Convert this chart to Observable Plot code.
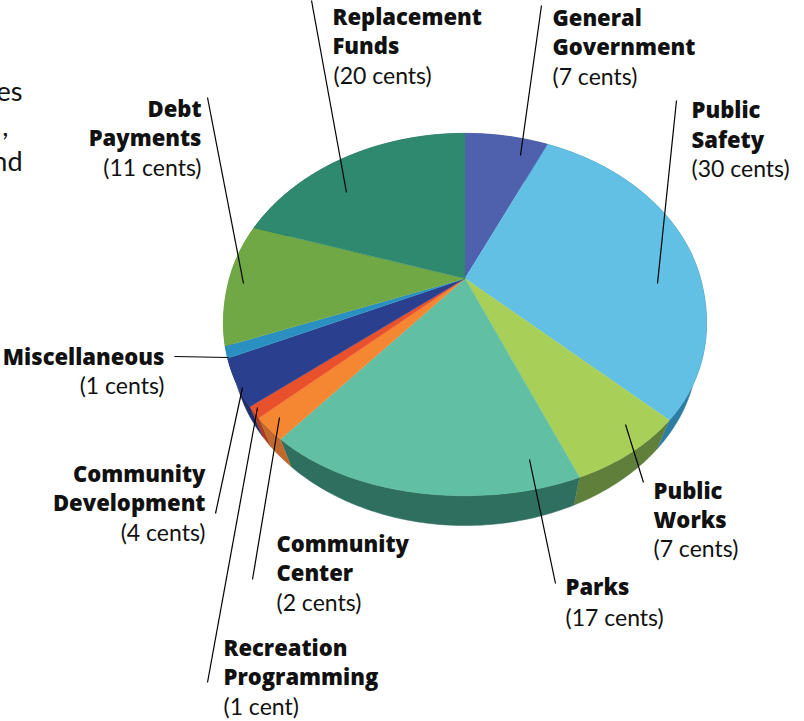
<!DOCTYPE html>
<html>
<head>
<meta charset="utf-8">
<style>html,body{margin:0;padding:0;background:#fff}svg{display:block}</style>
<script src="https://cdn.jsdelivr.net/npm/d3@7"></script>
<script src="https://cdn.jsdelivr.net/npm/@observablehq/plot@0.6"></script>
</head>
<body>
<div id="chart"></div>
<script>
// Slices, clockwise from twelve o'clock
const categories = ["General Government","Public Safety","Public Works","Parks","Community Center","Recreation Programming","Community Development","Miscellaneous","Debt Payments","Replacement Funds"];
// Slice sizes (the labels round them to whole cents)
const cents = [6.8,30.2,6.6,17.6,2,1,4,1,10.8,20];
const topColors = ["#4f60ad","#62c0e4","#a8cf58","#61bfa3","#f58732","#e8512b","#2a3f8e","#2a90c1","#70a845","#2e896e"];
const sideColors = ["#36427a","#2b7da3","#5f7f3a","#2f6f60","#c1682c","#a83d22","#1f2e68","#1f6a8e","#4f7a30","#215f4e"];

// Label lines: [text, x, baseline, anchor, bold]
const labelLines = [
  ["Replacement",332,24,"start",1],["Funds",332,53,"start",1],["(20 cents)",333,83,"start",0],
  ["General",552,25,"start",1],["Government",552,54,"start",1],["(7 cents)",552,84,"start",0],
  ["Public",691,117,"start",1],["Safety",691,147,"start",1],["(30 cents)",691,176,"start",0],
  ["Public",653,498,"start",1],["Works",653,527,"start",1],["(7 cents)",653,556,"start",0],
  ["Parks",565,594,"start",1],["(17 cents)",565,625,"start",0],
  ["Community",276,551,"start",1],["Center",276,580,"start",1],["(2 cents)",276,610,"start",0],
  ["Recreation",223,655,"start",1],["Programming",223,684,"start",1],["(1 cent)",223,714,"start",0],
  ["Community",205,481,"end",1],["Development",205,510,"end",1],["(4 cents)",205,540,"end",0],
  ["Miscellaneous",164,364,"end",1],["(1 cents)",164,393,"end",0],
  ["Debt",201,116,"end",1],["Payments",201,145,"end",1],["(11 cents)",201,175,"end",0]
];
const bodyFragments = [["es",22,100],[",",8,135],["nd",22,170]];
// Leader lines: x1,y1,x2,y2
const leaders = [
  [311,0,346,192],[541,5,520,155],[676,100,657,283],[625,424,643,482],[529,459,555,583],
  [279,417,252,579],[257,407,207,682],[242,387,215,513],[174,356,228,357],[207,97,243,283]
];

// Pie geometry: a tilted disc seen in perspective
const cx = 464.5, cy = 278, A = 235.5, B = 174, k = -0.199;
const rimScale = 0.967, rimCy = 315, cornerBulge = 0.028;
const project = (a, scale = 1, y0 = cy, bulge = 0) => {
  const u = Math.sin(a), v = -Math.cos(a), w = 1 + k * v;
  const b = 1 + (v > 0 ? bulge * Math.sin(2 * a) ** 2 : 0);
  return {x: cx + b * scale * A * u / w, y: y0 + b * scale * B * v / w};
};
const total = d3.sum(cents);
const cum = d3.cumsum(cents);
const angle = c => c / total * 2 * Math.PI;
const step = Math.PI / 180;
const faces = [], sides = [];
categories.forEach((name, i) => {
  const a0 = angle(cum[i] - cents[i]), a1 = angle(cum[i]);
  const n = Math.max(2, Math.ceil((a1 - a0) / step));
  const arc = d3.range(n + 1).map(j => a0 + (a1 - a0) * j / n);
  faces.push({name, color: topColors[i], x: cx, y: cy});
  arc.forEach(a => faces.push({name, color: topColors[i], ...project(a, 1, cy, cornerBulge)}));
  arc.forEach(a => sides.push({name, color: sideColors[i], ...project(a, 1, cy, cornerBulge)}));
  arc.slice().reverse().forEach(a => sides.push({name, color: sideColors[i], ...project(a, rimScale, rimCy)}));
});

const font = "Lato";
const textMarks = (bold, anchor) => Plot.text(
  labelLines.filter(d => d[4] === bold && d[3] === anchor),
  {x: d => d[1], y: d => d[2], text: d => d[0], textAnchor: anchor, lineAnchor: "bottom",
   fontSize: bold ? 22 : 23, fontWeight: bold ? 800 : 400, fill: "#111",
   fontFamily: bold ? "Open Sans" : font,
   style: {letterSpacing: bold ? "0.1px" : "0.15px"}}
);

const chart = Plot.plot({
  width: 804, height: 721, margin: 0,
  x: {type: "identity", axis: null}, y: {type: "identity", axis: null},
  color: {type: "identity"},
  style: {background: "#fff", fontFamily: font},
  marks: [
    Plot.line(sides, {x: "x", y: "y", z: "name", fill: "color", stroke: "color", strokeWidth: 0.5}),
    Plot.line(faces, {x: "x", y: "y", z: "name", fill: "color", stroke: "color", strokeWidth: 0.5}),
    Plot.link(leaders, {x1: d => d[0], y1: d => d[1], x2: d => d[2], y2: d => d[3], stroke: "#000", strokeWidth: 1.2}),
    textMarks(1, "start"), textMarks(1, "end"), textMarks(0, "start"), textMarks(0, "end"),
    Plot.text(bodyFragments, {x: d => d[1], y: d => d[2], text: d => d[0], textAnchor: "end", lineAnchor: "bottom",
      fontSize: 27, fill: "#111", fontFamily: font})
  ]
});
document.getElementById("chart").append(chart);
</script>
</body>
</html>
